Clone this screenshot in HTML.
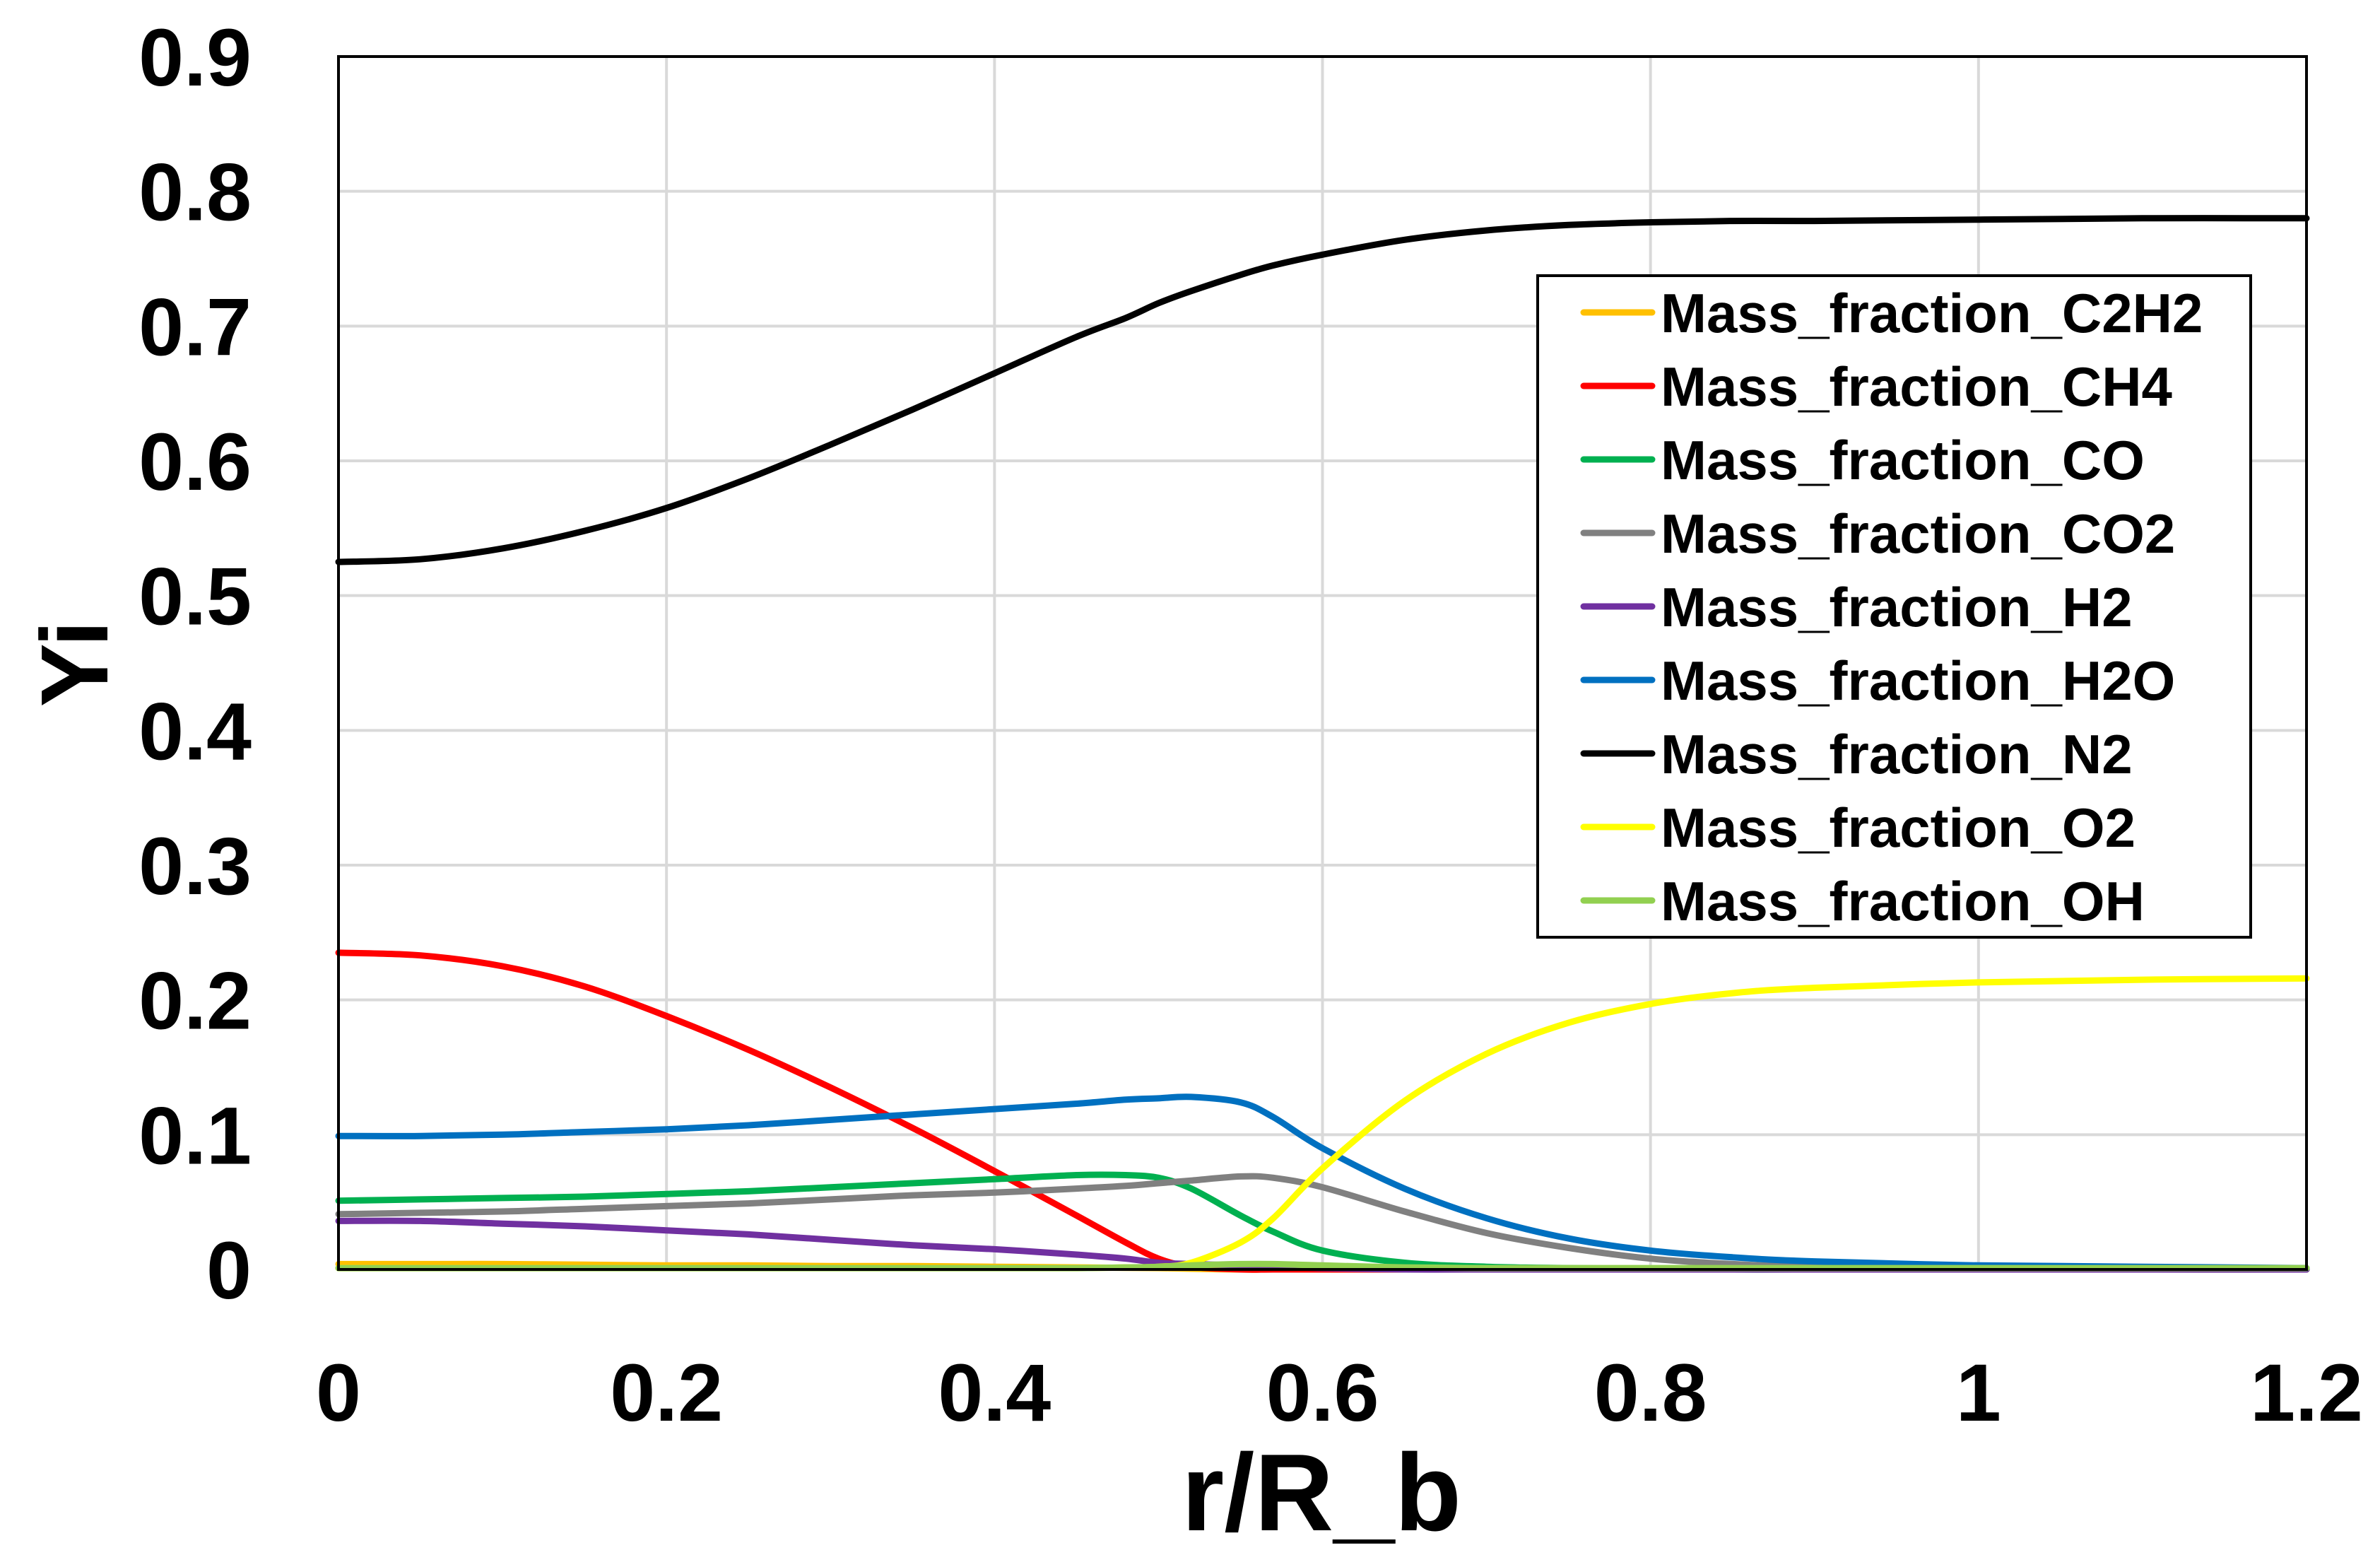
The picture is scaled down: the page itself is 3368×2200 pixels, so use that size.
<!DOCTYPE html>
<html><head><meta charset="utf-8"><style>
html,body{margin:0;padding:0;background:#fff;}
svg{display:block;font-family:"Liberation Sans",sans-serif;font-weight:bold;}
</style></head><body>
<svg id="chart" width="3368" height="2200" viewBox="0 0 3368 2200" xmlns="http://www.w3.org/2000/svg">
<rect width="3368" height="2200" fill="#fff"/>
<g id="grid"></g>
<g id="series"></g>
<rect x="479" y="80" width="2785" height="1716" fill="none" stroke="#000" stroke-width="4"/>
<g id="yticks"></g>
<g id="xticks"></g>
<text x="1870" y="2165" font-size="155" text-anchor="middle">r/R_b</text>
<text x="0" y="0" font-size="135" text-anchor="middle" transform="translate(152,939) rotate(-90)">Yi</text>
<g id="legend">
<rect x="2176" y="390" width="1009" height="936" fill="#fff" stroke="#000" stroke-width="4"/>
</g>
</svg>
<script>
const xs = [0,0.05,0.1,0.15,0.2,0.25,0.3,0.35,0.4,0.45,0.48,0.5,0.52,0.55,0.57,0.6,0.65,0.7,0.75,0.8,0.85,0.9,1.0,1.1,1.2];
const c2h2 = [0.004,0.004,0.004,0.0035,0.003,0.003,0.0025,0.0025,0.002,0.0015,0.0012,0.001,0.0005,0,0,0,0,0,0,0,0,0,0,0,0];
const ch4 = [0.235,0.233,0.225,0.21,0.188,0.163,0.135,0.105,0.073,0.04,0.02,0.008,0.002,0,0,0,0,0,0,0,0,0,0,0,0];
const co = [0.051,0.052,0.053,0.054,0.056,0.058,0.061,0.064,0.067,0.07,0.07,0.068,0.06,0.04,0.028,0.014,0.005,0.002,0.001,0.0005,0,0,0,0,0];
const co2 = [0.041,0.042,0.043,0.045,0.047,0.049,0.052,0.055,0.057,0.06,0.062,0.064,0.066,0.069,0.068,0.061,0.043,0.027,0.016,0.008,0.004,0.002,0.001,0,0];
const h2 = [0.036,0.036,0.034,0.032,0.029,0.026,0.022,0.018,0.015,0.011,0.008,0.005,0.004,0.003,0.002,0.001,0,0,0,0,0,0,0,0,0];
const h2o = [0.099,0.099,0.1,0.102,0.104,0.107,0.111,0.115,0.119,0.123,0.126,0.127,0.128,0.124,0.113,0.09,0.06,0.038,0.023,0.014,0.009,0.006,0.003,0.002,0.001];
const n2 = [0.525,0.527,0.535,0.548,0.565,0.587,0.612,0.638,0.665,0.692,0.706,0.717,0.726,0.738,0.745,0.753,0.764,0.771,0.775,0.777,0.778,0.778,0.779,0.78,0.78];
const o2 = [0.001,0.001,0.001,0.001,0.001,0.001,0.001,0.001,0.001,0.001,0.0015,0.002,0.005,0.02,0.038,0.075,0.125,0.16,0.183,0.197,0.205,0.209,0.213,0.215,0.216];
const oh = [0.001,0.001,0.001,0.001,0.001,0.001,0.001,0.001,0.001,0.001,0.0015,0.002,0.003,0.004,0.004,0.003,0.0015,0.001,0.001,0.001,0.001,0.001,0.001,0.001,0.001];
const seriesNames = ["Mass_fraction_C2H2","Mass_fraction_CH4","Mass_fraction_CO","Mass_fraction_CO2","Mass_fraction_H2","Mass_fraction_H2O","Mass_fraction_N2","Mass_fraction_O2","Mass_fraction_OH"];
const seriesData = [c2h2,ch4,co,co2,h2,h2o,n2,o2,oh];
const seriesColors = ["#ffc000","#ff0000","#00b050","#808080","#7030a0","#0070c0","#000000","#ffff00","#92d050"];
const xTickVals = [0,0.2,0.4,0.6,0.8,1,1.2];
const xTickLabels = ["0","0.2","0.4","0.6","0.8","1","1.2"];
const yTickVals = [0,0.1,0.2,0.3,0.4,0.5,0.6,0.7,0.8,0.9];
const yTickLabels = ["0","0.1","0.2","0.3","0.4","0.5","0.6","0.7","0.8","0.9"];

const NS = "http://www.w3.org/2000/svg";
const L=479,R=3264,T=80,B=1796;
function X(v){return L+(R-L)*v/1.2;}
function Y(v){return B-(B-T)*v/0.9;}
function mk(tag,attrs,parent){const e=document.createElementNS(NS,tag);for(const k in attrs)e.setAttribute(k,attrs[k]);parent.appendChild(e);return e;}
function smoothPath(px,py){
  let d='M'+px[0].toFixed(1)+','+py[0].toFixed(1);
  for(let i=0;i<px.length-1;i++){
    const i0=Math.max(0,i-1),i3=Math.min(px.length-1,i+2);
    const c1x=px[i]+(px[i+1]-px[i0])/6,c1y=py[i]+(py[i+1]-py[i0])/6;
    const c2x=px[i+1]-(px[i3]-px[i])/6,c2y=py[i+1]-(py[i3]-py[i])/6;
    d+=' C'+c1x.toFixed(1)+','+c1y.toFixed(1)+' '+c2x.toFixed(1)+','+c2y.toFixed(1)+' '+px[i+1].toFixed(1)+','+py[i+1].toFixed(1);
  }
  return d;
}

const grid=document.getElementById('grid');
xTickVals.forEach(v=>{
  const l=mk('line',{x1:X(v),x2:X(v),y1:T,y2:B,stroke:'#d9d9d9','stroke-width':4},grid);
  
  
});
yTickVals.forEach(v=>{
  const l=mk('line',{x1:L,x2:R,y1:Y(v),y2:Y(v),stroke:'#d9d9d9','stroke-width':4},grid);
  
  
});
const yt=document.getElementById('yticks');
yTickVals.forEach((v,i)=>{
  const t=mk('text',{x:356,y:Y(v)+41,'font-size':115,'text-anchor':'end'},yt);
  t.textContent=yTickLabels[i];
  
  
});
const xt=document.getElementById('xticks');
xTickVals.forEach((v,i)=>{
  const t=mk('text',{x:X(v),y:2010,'font-size':115,'text-anchor':'middle'},xt);
  t.textContent=xTickLabels[i];
  
  
});
const sg=document.getElementById('series');
seriesData.forEach((d,i)=>{
  const px=xs.map(X), py=d.map(Y);
  const p=mk('path',{d:smoothPath(px,py),fill:'none',stroke:seriesColors[i],'stroke-width':9,'stroke-linejoin':'round','stroke-linecap':'round'},sg);
  
  
});
const lg=document.getElementById('legend');
seriesNames.forEach((n,i)=>{
  const cy=442+i*104;
  const g=mk('g',{},lg);
  
  
  mk('line',{x1:2241,x2:2338,y1:cy,y2:cy,stroke:seriesColors[i],'stroke-width':9,'stroke-linecap':'round'},g);
  const t=mk('text',{x:2350,y:cy+28,'font-size':78},g);
  t.textContent=n;
});
</script>
</body></html>
